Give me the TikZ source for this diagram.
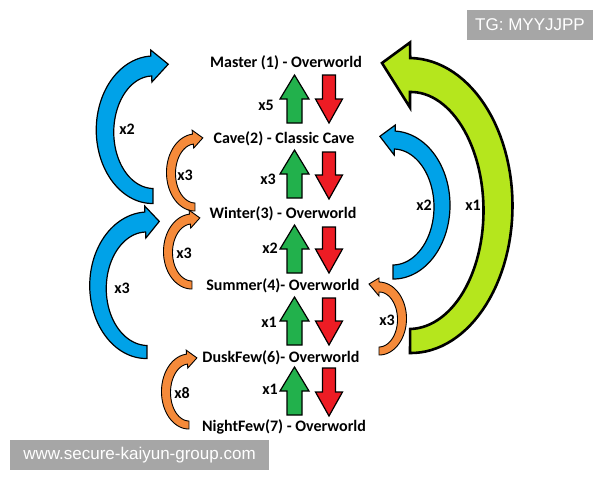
\documentclass[tikz,border=0pt]{standalone}
\usepackage{fontspec}
\setmainfont{Carlito}
\newfontfamily\wmfont{Liberation Sans}
\definecolor{cblue}{HTML}{00A2E8}
\definecolor{clime}{HTML}{B5E61D}
\definecolor{corange}{HTML}{F58A3A}
\definecolor{cgreen}{HTML}{22B14C}
\definecolor{cred}{HTML}{ED1C24}
\definecolor{wmgray}{HTML}{A6A6A6}
\pgfkeys{/carr/.cd,
 cx/.store in=\Ccx, cy/.store in=\Ccy, rx/.store in=\Crx, ry/.store in=\Cry,
 a/.store in=\Ca, b/.store in=\Cb, wa/.store in=\Cwa, wb/.store in=\Cwb,
 hw/.store in=\Chw, hl/.store in=\Chl, tn/.store in=\Ctn}
\def\Cang{(\Ca+(\Cb-\Ca)*\x)}
\def\Cwid{(\Cwa+(\Cwb-\Cwa)*\x)}
\def\Cangr{(\Cb+(\Ca-\Cb)*\x)}
\def\Cwidr{(\Cwb+(\Cwa-\Cwb)*\x)}
\newcommand{\carrow}[2][]{%
 \pgfkeys{/carr/.cd,tn=0,#2}%
 \pgfmathsetmacro\Cs{\Cb>\Ca ? 1 : -1}%
 \pgfmathsetmacro\Ctx{0-(\Cs)*(\Crx)*sin(\Cb)}%
 \pgfmathsetmacro\Cty{(\Cs)*(\Cry)*cos(\Cb)}%
 \pgfmathsetmacro\Cn{sqrt((\Ctx)*(\Ctx)+(\Cty)*(\Cty))}%
 \pgfmathsetmacro\Cnx{(\Cry)*cos(\Cb)}%
 \pgfmathsetmacro\Cny{(\Crx)*sin(\Cb)}%
 \pgfmathsetmacro\Cnn{sqrt((\Cnx)*(\Cnx)+(\Cny)*(\Cny))}%
 \pgfmathsetmacro\Tx{\Ccx+(\Crx)*cos(\Cb)+(\Chl)*(\Ctx)/(\Cn)+(\Ctn)*(\Cnx)/(\Cnn)}%
 \pgfmathsetmacro\Ty{\Ccy+(\Cry)*sin(\Cb)+(\Chl)*(\Cty)/(\Cn)+(\Ctn)*(\Cny)/(\Cnn)}%
 \filldraw[#1] plot[domain=0:1,samples=60] ({\Ccx+(\Crx+\Cwid/2)*cos(\Cang)},{\Ccy+(\Cry+\Cwid/2)*sin(\Cang)})
   -- ({\Ccx+(\Crx+\Chw/2)*cos(\Cb)},{\Ccy+(\Cry+\Chw/2)*sin(\Cb)})
   -- (\Tx,\Ty)
   -- ({\Ccx+(\Crx-\Chw/2)*cos(\Cb)},{\Ccy+(\Cry-\Chw/2)*sin(\Cb)})
   -- plot[domain=0:1,samples=60] ({\Ccx+(\Crx-\Cwidr/2)*cos(\Cangr)},{\Ccy+(\Cry-\Cwidr/2)*sin(\Cangr)})
   -- cycle;}
\newcommand{\uparr}[3]{%
 \filldraw[uparrow] (#1-7.5,#3) -- (#1-7.5,#2+24) -- (#1-14.5,#2+24) -- (#1,#2)
   -- (#1+14.5,#2+24) -- (#1+7.5,#2+24) -- (#1+7.5,#3) -- cycle;}
\newcommand{\dnarr}[3]{%
 \filldraw[dnarrow] (#1-6.5,#2) -- (#1-6.5,#3-24) -- (#1-13.5,#3-24) -- (#1,#3)
   -- (#1+13.5,#3-24) -- (#1+6.5,#3-24) -- (#1+6.5,#2) -- cycle;}
\begin{document}
\begin{tikzpicture}[x=1pt,y=-1pt,
  lbl/.style={font=\fontsize{16}{18}\selectfont\bfseries, inner sep=0pt},
  cnt/.style={font=\fontsize{16}{18}\selectfont\bfseries, inner sep=0pt},
  uparrow/.style={fill=cgreen, draw=black, line width=1.2pt, line join=miter},
  dnarrow/.style={fill=cred, draw=black, line width=1.2pt, line join=miter},
  bluearr/.style={fill=cblue, draw=black, line width=1.2pt},
  orangearr/.style={fill=corange, draw=black, line width=0.9pt},
  limearr/.style={fill=clime, draw=black, line width=2.6pt},
  wm/.style={fill=wmgray, text=white, inner sep=0pt, font=\wmfont\fontsize{17}{20}\selectfont}]
\fill[white] (0,0) rectangle (600,480);
\useasboundingbox (0,0) rectangle (600,480);

% curved arrows
\carrow[bluearr]{cx=153,cy=131,rx=48,ry=65,a=90,b=268,wa=15,wb=20,hw=32,hl=17,tn=1}
\carrow[bluearr]{cx=147,cy=287,rx=49,ry=65,a=90,b=268,wa=13,wb=20,hw=32,hl=14}
\carrow[orangearr]{cx=195,cy=173,rx=24,ry=34,a=90,b=265,wa=8,wb=10,hw=18,hl=10}
\carrow[orangearr]{cx=192,cy=252,rx=24,ry=33,a=90,b=265,wa=8,wb=10,hw=18,hl=10}
\carrow[orangearr]{cx=189,cy=392,rx=23,ry=33,a=90,b=265,wa=8,wb=10,hw=18,hl=10}
\carrow[bluearr]{cx=393,cy=206,rx=49,ry=66,a=90,b=-88,wa=14,wb=18,hw=30,hl=15,tn=3}
\carrow[limearr]{cx=410,cy=208,rx=88,ry=133,a=90,b=-90,wa=24,wb=34,hw=65,hl=28,tn=12}
\carrow[orangearr]{cx=379,cy=319,rx=23,ry=32,a=90,b=-90,wa=8,wb=10,hw=18,hl=10,tn=3}

% straight arrows
\uparr{294.5}{75}{123}  \dnarr{329}{75}{123}
\uparr{294.5}{150}{198} \dnarr{329}{152}{199}
\uparr{294.5}{225}{273} \dnarr{329}{227}{273}
\uparr{294.5}{297}{345} \dnarr{329}{298}{345}
\uparr{294.5}{367}{415} \dnarr{329}{368}{416}

% level labels
\node[lbl] (master) at (286,63) {Master (1) - Overworld};
\node[lbl] (cave) at (284,139) {Cave(2) - Classic Cave};
\node[lbl] (winter) at (283,214) {Winter(3) - Overworld};
\node[lbl] (summer) at (283,286) {Summer(4)- Overworld};
\node[lbl] (dusk) at (281,358) {DuskFew(6)- Overworld};
\node[lbl] (night) at (284,427) {NightFew(7) - Overworld};

% counts
\node[cnt] (c1) at (266,105) {x5};
\node[cnt] (c2) at (268,179) {x3};
\node[cnt] (c3) at (270,248) {x2};
\node[cnt] (c4) at (269,322) {x1};
\node[cnt] (c5) at (270,389) {x1};
\node[cnt] (c6) at (127,129) {x2};
\node[cnt] (c7) at (122,288) {x3};
\node[cnt] (c8) at (185,175) {x3};
\node[cnt] (c9) at (184,253) {x3};
\node[cnt] (c10) at (182,393) {x8};
\node[cnt] (c11) at (424,205) {x2};
\node[cnt] (c12) at (473,205) {x1};
\node[cnt] (c13) at (387,320) {x3};

% watermarks
\node[wm, minimum width=126pt, minimum height=30pt] (tg) at (530,25) {TG: MYYJJPP};
\node[wm, minimum width=259pt, minimum height=30pt] (url) at (139.5,455) {www.secure-kaiyun-group.com};
\end{tikzpicture}
\end{document}
